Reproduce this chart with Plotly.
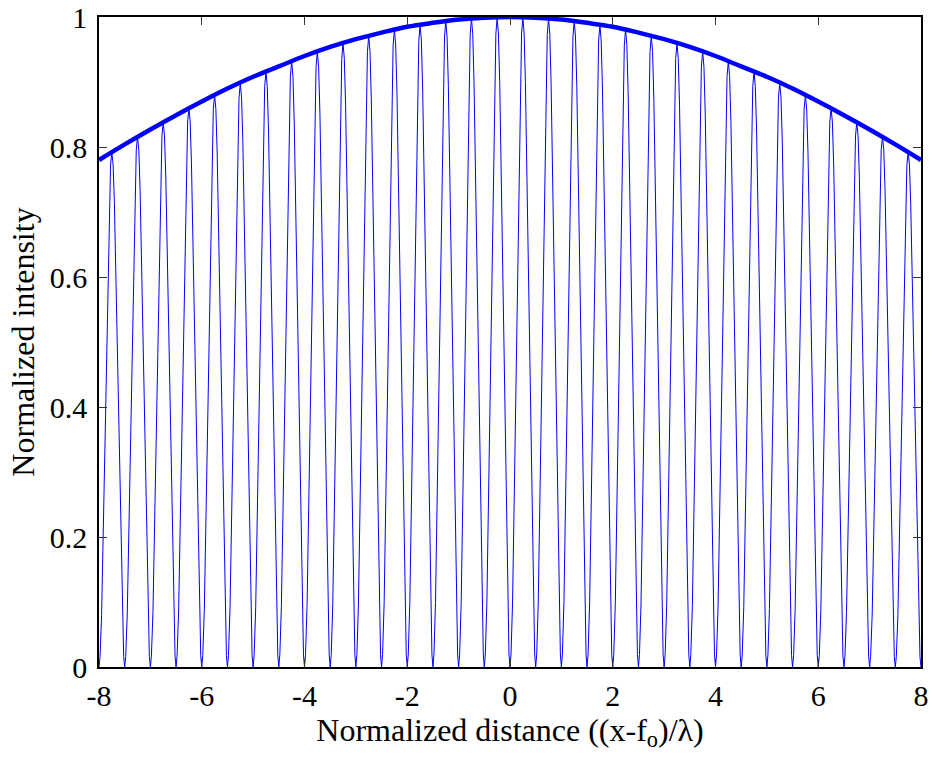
import numpy as np
import plotly.graph_objects as go

# Envelope (thick curve) read at 0.5 steps
env_x = [-8, -7.5, -7, -6.5, -6, -5.5, -5, -4.5, -4, -3.5, -3, -2.5, -2, -1.5, -1, -0.5,
         0, 0.5, 1, 1.5, 2, 2.5, 3, 3.5, 4, 4.5, 5, 5.5, 6, 6.5, 7, 7.5, 8]
env_y = [0.780, 0.804, 0.827, 0.849, 0.870, 0.890, 0.908, 0.924, 0.940, 0.954, 0.966, 0.976,
         0.985, 0.991, 0.996, 0.999, 1.000, 0.999, 0.996, 0.991, 0.985, 0.976, 0.966, 0.954,
         0.940, 0.924, 0.908, 0.890, 0.870, 0.849, 0.827, 0.804, 0.780]

# Fringe peaks (positions and heights)
peak_x = [-7.75, -7.25, -6.75, -6.25, -5.75, -5.25, -4.75, -4.25, -3.75, -3.25, -2.75, -2.25,
          -1.75, -1.25, -0.75, -0.25, 0.25, 0.75, 1.25, 1.75, 2.25, 2.75, 3.25, 3.75,
          4.25, 4.75, 5.25, 5.75, 6.25, 6.75, 7.25, 7.75]
peak_y = [0.792, 0.816, 0.838, 0.860, 0.880, 0.898, 0.916, 0.932, 0.947, 0.960, 0.971, 0.981,
          0.988, 0.994, 0.998, 0.999, 0.999, 0.998, 0.994, 0.988, 0.981, 0.971, 0.960, 0.947,
          0.932, 0.916, 0.898, 0.880, 0.860, 0.838, 0.816, 0.792]

# Shape of one fringe half (offset from its zero, fraction of its peak)
prof_off = [0.0, 0.02, 0.05, 0.10, 0.15, 0.20, 0.225, 0.25]
prof_frac = [0.0, 0.02, 0.10, 0.35, 0.65, 0.90, 0.975, 1.0]

fx, fy = [], []
for p, h in zip(peak_x, peak_y):
    z0 = p - 0.25
    for o, f in zip(prof_off, prof_frac):
        fx.append(z0 + o); fy.append(h * f)
    for o, f in zip(prof_off[::-1][1:], prof_frac[::-1][1:]):
        fx.append(p + 0.25 - o); fy.append(h * f)

fig = go.Figure()
fig.add_trace(go.Scatter(x=fx, y=fy, mode="lines",
                         line=dict(color="#0000FF", width=1), showlegend=False))
fig.add_trace(go.Scatter(x=env_x, y=env_y, mode="lines", line_shape="spline",
                         line=dict(color="#0000FF", width=4.5), showlegend=False))

tick_font = dict(family="Liberation Serif, Times New Roman, serif", size=30, color="black")
title_font = dict(family="Liberation Serif, Times New Roman, serif", size=32, color="black")
axis_common = dict(showgrid=False, zeroline=False, showline=True, linecolor="black",
                   linewidth=1.5, mirror="allticks", ticks="inside", ticklen=8,
                   tickcolor="#333333", tickwidth=1, tickfont=tick_font, automargin=False)

fig.update_layout(
    width=932, height=757,
    margin=dict(l=99, r=11, t=17, b=90),
    plot_bgcolor="white", paper_bgcolor="white",
    font=tick_font,
    xaxis=dict(range=[-8, 8], tickvals=[-8, -6, -4, -2, 0, 2, 4, 6, 8],
               ticktext=["-8", "-6", "-4", "-2", "0", "2", "4", "6", "8"],
               ticklabelstandoff=1,
               title=dict(text="Normalized distance ((x-f<sub>o</sub>)/λ)", font=title_font, standoff=1),
               **axis_common),
    yaxis=dict(range=[0, 1], tickvals=[0, 0.2, 0.4, 0.6, 0.8, 1],
               ticktext=["0", "0.2", "0.4", "0.6", "0.8", "1"],
               ticklabelstandoff=4,
               title=dict(text="Normalized intensity", font=title_font, standoff=6),
               **axis_common),
)

fig.write_html("out.html")
